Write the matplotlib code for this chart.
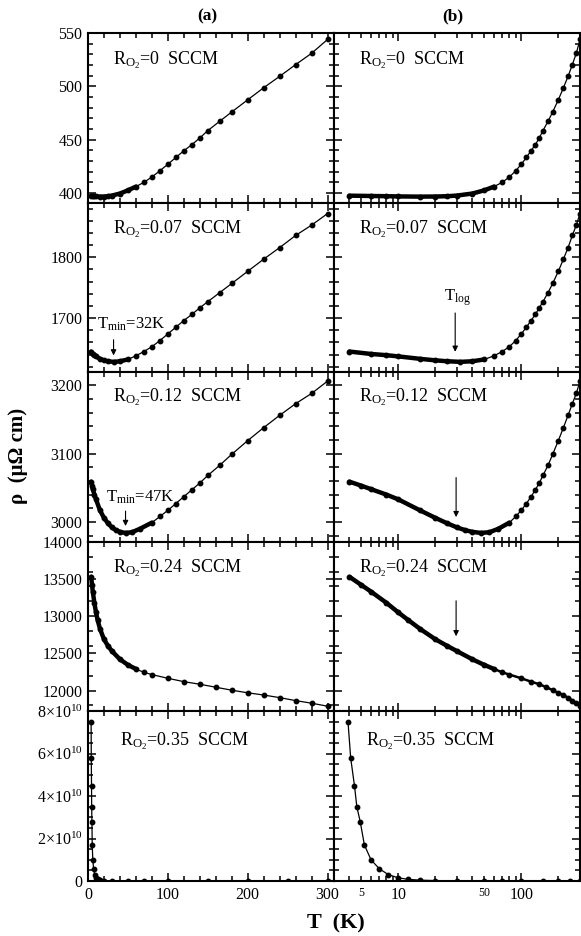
"""
Resistivity vs temperature for different O2 flow rates
"""
import numpy as np
import matplotlib.pyplot as plt
from matplotlib.ticker import MultipleLocator, FixedLocator, FuncFormatter, NullFormatter

plt.rcParams['font.family'] = ['Liberation Serif', 'DejaVu Serif']
plt.rcParams['mathtext.fontset'] = 'custom'
plt.rcParams['mathtext.rm'] = 'Liberation Serif'
plt.rcParams['mathtext.it'] = 'Liberation Serif:italic'
plt.rcParams['mathtext.bf'] = 'Liberation Serif:bold'

# ---- data ----
T1 = [4, 6, 8, 10, 15, 20, 25, 30, 40, 50, 60, 70, 80, 90, 100, 110, 120, 130,
      140, 150, 165, 180, 200, 220, 240, 260, 280, 300]
rho1 = [397.5, 397.2, 397.0, 396.8, 396.6, 396.7, 397.0, 397.6, 399.5, 402.5, 406.0,
        410.0, 415.0, 420.8, 427.0, 433.3, 439.6, 445.3, 451.6, 458.5, 467.3, 476.0,
        487.4, 498.7, 509.4, 520.4, 531.0, 544.0]

T2 = [4, 6, 8, 10, 15, 20, 25, 32, 40, 50, 60, 70, 80, 90, 100, 110, 120, 130,
      140, 150, 165, 180, 200, 220, 240, 260, 280, 300]
rho2 = [1645, 1641, 1639, 1637, 1633, 1630.5, 1629, 1628, 1629, 1632, 1638, 1645,
        1653, 1663, 1674, 1685, 1696, 1706, 1717, 1727, 1742, 1757, 1777, 1797,
        1816, 1836, 1853, 1872]

T3 = [4, 5, 6, 8, 10, 15, 20, 25, 30, 35, 40, 47, 55, 65, 80, 90, 100, 110, 120,
      130, 140, 150, 165, 180, 200, 220, 240, 260, 280, 300]
rho3 = [3059, 3053, 3048, 3040, 3033, 3017, 3006, 2998, 2992, 2988, 2985.5, 2984,
        2985, 2990, 2999, 3008, 3017, 3027, 3037, 3047, 3057, 3068, 3083, 3099,
        3119, 3138, 3156, 3173, 3188, 3206]

T4 = [4, 5, 6, 8, 10, 12, 15, 20, 25, 30, 40, 50, 60, 70, 80, 100, 120, 140, 160,
      180, 200, 220, 240, 260, 280, 300]
rho4 = [13530, 13420, 13330, 13180, 13050, 12950, 12830, 12690, 12600, 12530,
        12420, 12345, 12290, 12245, 12215, 12165, 12120, 12085, 12045, 12005,
        11970, 11940, 11905, 11865, 11830, 11790]

T5 = [3.9, 4.1, 4.4, 4.6, 4.9, 5.3, 6, 7, 8.3, 10, 12, 15, 20, 30, 50, 70, 100,
      150, 200, 250, 300]
rho5 = [7.5e10, 5.8e10, 4.5e10, 3.5e10, 2.8e10, 1.7e10, 1.0e10, 0.58e10, 0.3e10,
        0.15e10, 0.08e10, 0.04e10, 0.02e10, 0.01e10, 0.005e10, 0.003e10, 0.002e10,
        0.001e10, 0.001e10, 0.001e10, 0.001e10]

labels = ["0", "0.07", "0.12", "0.24", "0.35"]

# ---- per-row axis setup ----
ylims = [(391, 550), (1611, 1890), (2971, 3219), (11720, 14000), (0, 8e10)]
ymajor = [50, 100, 100, 500, 2e10]
yminor = [10, 20, 20, 200, 0.5e10]
dense_max = [62, 55, 80, 60, 0]   # low-T region where the points pile up
lw_right = [0.9, 0.9, 0.9, 1.8, 0.9]
label_pos = [(0.10, 0.815), (0.10, 0.82), (0.10, 0.825), (0.10, 0.822), (0.13, 0.80)]

W, H = 581, 936
x_left, x_mid, x_right = 88, 334, 580
top, row_h = 33, 169.6


def style_axes(ax):
    for s in ax.spines.values():
        s.set_linewidth(1.5)
    ax.tick_params(which='both', direction='in', top=True, right=True,
                   labelsize=11.5, width=1.1, pad=4)
    ax.tick_params(which='major', length=6)
    ax.tick_params(which='minor', length=3.5)


def e10_fmt(v, pos):
    if v == 0:
        return "0"
    return r"%d$\times$10$^{10}$" % round(v / 1e10)


def log_minor_fmt(v, pos):
    if abs(v - 5) < 1e-6:
        return "5"
    if abs(v - 50) < 1e-6:
        return "50"
    return ""


fig = plt.figure(figsize=(W / 100, H / 100), dpi=100)

data = [(T1, rho1), (T2, rho2), (T3, rho3), (T4, rho4), (T5, rho5)]
axes = []
for i, (T, rho) in enumerate(data):
    bottom_px = top + row_h * (i + 1)
    axl = fig.add_axes([x_left / W, 1 - bottom_px / H, (x_mid - x_left) / W, row_h / H])
    axr = fig.add_axes([x_mid / W, 1 - bottom_px / H, (x_right - x_mid) / W, row_h / H])
    T = np.array(T)
    rho = np.array(rho)
    for ax, lw in ((axl, 0.9), (axr, lw_right[i])):
        ax.plot(T, rho, color='black', lw=lw, marker='o', ms=3.2)
        if dense_max[i] > 0:
            m = T <= dense_max[i]
            ax.plot(T[m], rho[m], color='black', lw=3.2, solid_capstyle='round')
        ax.set_ylim(*ylims[i])
        style_axes(ax)
        ax.text(label_pos[i][0], label_pos[i][1],
                r"R$_{\mathrm{O}_2}$=" + labels[i] + "  SCCM",
                transform=ax.transAxes, fontsize=13, va='baseline')

    # left: linear T
    axl.set_xlim(0, 308)
    axl.xaxis.set_major_locator(MultipleLocator(100))
    axl.xaxis.set_minor_locator(MultipleLocator(20))
    axl.yaxis.set_major_locator(MultipleLocator(ymajor[i]))
    axl.yaxis.set_minor_locator(MultipleLocator(yminor[i]))
    if i == 4:
        axl.yaxis.set_major_formatter(FuncFormatter(e10_fmt))

    # right: log T
    axr.set_xscale('log')
    axr.set_xlim(3, 300)
    axr.xaxis.set_major_locator(FixedLocator([10, 100]))
    axr.xaxis.set_minor_locator(FixedLocator([3, 4, 5, 6, 7, 8, 9, 20, 30, 40, 50, 60,
                                              70, 80, 90, 200, 300]))
    axr.yaxis.set_major_locator(MultipleLocator(ymajor[i]))
    axr.yaxis.set_minor_locator(MultipleLocator(yminor[i]))
    axr.tick_params(labelleft=False)

    if i < 4:
        axl.tick_params(labelbottom=False)
        axr.tick_params(labelbottom=False)
        axr.xaxis.set_minor_formatter(NullFormatter())
    else:
        axr.xaxis.set_major_formatter(FuncFormatter(lambda v, p: "%d" % v))
        axr.xaxis.set_minor_formatter(FuncFormatter(log_minor_fmt))
        axr.tick_params(which='minor', labelsize=8.5)
    axes.append((axl, axr))

arrow = dict(arrowstyle='-|>', color='black', lw=0.8, mutation_scale=8)

# T_min annotations on the linear panels
axl = axes[1][0]
axl.annotate('', xy=(32, 1634), xytext=(32, 1669), arrowprops=arrow)
axl.text(11, 1682, r"T$_{\mathrm{min}}$=32K", fontsize=12, va='baseline')
axl = axes[2][0]
axl.annotate('', xy=(47, 2990), xytext=(47, 3020), arrowprops=arrow)
axl.text(22, 3030, r"T$_{\mathrm{min}}$=47K", fontsize=12, va='baseline')

# T_log arrows on the log panels
axr = axes[1][1]
axr.annotate('', xy=(29, 1640), xytext=(29, 1713), arrowprops=arrow)
axr.text(30, 1729, r"T$_{\mathrm{log}}$", fontsize=12, va='baseline', ha='center')
axes[2][1].annotate('', xy=(29.5, 3003), xytext=(29.5, 3069), arrowprops=arrow)
axes[3][1].annotate('', xy=(29.5, 12693), xytext=(29.5, 13244), arrowprops=arrow)

fig.text(207 / W, 1 - 16 / H, "(a)", ha='center', va='center', fontsize=12.5,
         fontweight='bold')
fig.text(453 / W, 1 - 16 / H, "(b)", ha='center', va='center', fontsize=12.5,
         fontweight='bold')
fig.text(18 / W, 1 - 456 / H, "ρ  (μΩ cm)", rotation=90, ha='center', va='center',
         fontsize=15, fontweight='bold')
fig.text(336 / W, 1 - 923 / H, "T  (K)", ha='center', va='center', fontsize=16,
         fontweight='bold')

fig.savefig('out.png', dpi=100)
